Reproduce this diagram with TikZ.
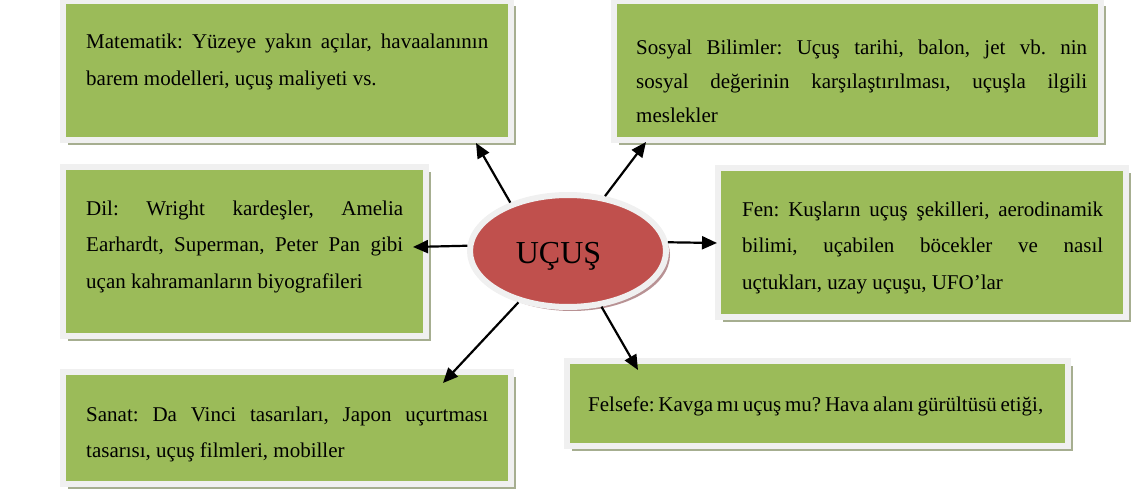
\documentclass[tikz,border=0pt]{standalone}
\usepackage{fontspec}
\setmainfont{Liberation Serif}
\usetikzlibrary{shapes.geometric,shadows,arrows.meta,calc}
\definecolor{boxgreen}{RGB}{155,187,89}
\definecolor{ovalred}{RGB}{192,80,77}
\definecolor{framegray}{RGB}{240,240,240}
\definecolor{boxshadow}{RGB}{166,174,144}
\definecolor{ovalshadow}{RGB}{184,146,148}
\frenchspacing
\hyphenpenalty=10000
\tolerance=10000
\begin{document}
\begin{tikzpicture}[x=1pt,y=-1pt]
				\tikzstyle{Box} = [rectangle, fill=boxgreen, draw=framegray, line width=6pt, inner sep=0pt, drop shadow={shadow xshift=5pt, shadow yshift=-5pt, fill=boxshadow, opacity=1}]
				\tikzstyle{Oval} = [ellipse, fill=ovalred, draw=framegray, line width=6pt, inner sep=0pt, minimum width=196, minimum height=112, drop shadow={shadow xshift=4pt, shadow yshift=-4pt, fill=ovalshadow, opacity=1}]
				\tikzstyle{Text} = [anchor=base west, inner sep=0pt, align=justify, font=\fontsize{21}{36.5}\selectfont]
				\tikzstyle{Arrow} = [line width=2.2pt, -{Triangle[length=15pt,width=13pt]}]
				\useasboundingbox (0,0) rectangle (1134,497);
				\node (1) at (287,70.5) [Box, minimum width=448, minimum height=139] {};
				\node (2) at (857.5,70.5) [Box, minimum width=487, minimum height=139] {};
				\node (3) at (244.5,251.5) [Box, minimum width=363, minimum height=169] {};
				\node (4) at (922,242.5) [Box, minimum width=408, minimum height=149] {};
				\node (5) at (287,428) [Box, minimum width=448, minimum height=112] {};
				\node (6) at (817.5,403.5) [Box, minimum width=501, minimum height=85] {};
				\node (0) at (568,251) [Oval] {};
				\node (0t) at (558.5,263) [anchor=base, inner sep=0pt, font=\fontsize{32}{36}\selectfont] {UÇUŞ};
				\node (1t) at (86,49) [Text, text width=402] {Matematik: Yüzeye yakın açılar, havaalanının\linebreak barem modelleri, uçuş maliyeti vs.};
				\node (2t) at (636,55) [Text, text width=451, font=\fontsize{21}{34}\selectfont] {Sosyal Bilimler: Uçuş tarihi, balon, jet vb. nin\linebreak sosyal değerinin karşılaştırılması, uçuşla ilgili\linebreak meslekler};
				\node (3t) at (86,215) [Text, text width=317] {Dil: Wright kardeşler, Amelia\linebreak Earhardt, Superman, Peter Pan gibi\linebreak uçan kahramanların biyografileri};
				\node (4t) at (742,216) [Text, text width=361] {Fen: Kuşların uçuş şekilleri, aerodinamik\linebreak bilimi, uçabilen böcekler ve nasıl\linebreak uçtukları, uzay uçuşu, UFO’lar};
				\node (5t) at (86,421) [Text, text width=402] {Sanat: Da Vinci tasarıları, Japon uçurtması\linebreak tasarısı, uçuş filmleri, mobiller};
				\node (6t) at (588,411) [anchor=base west, inner sep=0pt, font=\fontsize{21}{36.5}\selectfont] {\hbox to 455pt{Felsefe: Kavga mı uçuş mu? Hava alanı gürültüsü etiği,}};
				\draw[Arrow] (0.140) -- ($(1.south east)+(-38,0)$);
				\draw[Arrow] (0.56) -- ($(2.south west)+(35,-1)$);
				\draw[Arrow] (0.177) -- ($(3.east)+(-16,-4.5)$);
				\draw[Arrow] (0.5) -- ($(4.west)+(2,0.5)$);
				\draw[Arrow] (0.226) -- ($(5.north east)+(-71,14)$);
				\draw[Arrow] (0.301) -- ($(6.north west)+(74,12)$);
			\end{tikzpicture}
\end{document}
